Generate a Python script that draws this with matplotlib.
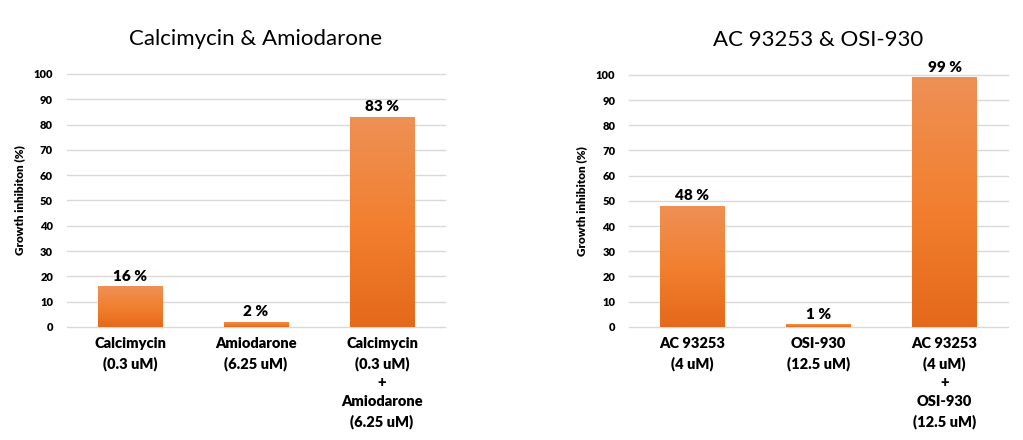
import numpy as np
import matplotlib.pyplot as plt
from matplotlib.colors import LinearSegmentedColormap

plt.rcParams['font.family'] = ['Lato', 'DejaVu Sans']

# data
left_title = "Calcimycin & Amiodarone"
left_labels = ["Calcimycin\n(0.3 uM)", "Amiodarone\n(6.25 uM)",
               "Calcimycin\n(0.3 uM)\n+\nAmiodarone\n(6.25 uM)"]
left_values = [16, 2, 83]

right_title = "AC 93253 & OSI-930"
right_labels = ["AC 93253\n(4 uM)", "OSI-930\n(12.5 uM)",
                "AC 93253\n(4 uM)\n+\nOSI-930\n(12.5 uM)"]
right_values = [48, 1, 99]

y_ticks = list(range(0, 101, 10))
y_label = "Growth inhibiton (%)"

grad = LinearSegmentedColormap.from_list("bar", ["#E5691A", "#F28030", "#EE9055"])


def draw_panel(ax, title, labels, values):
    x = np.arange(len(values))
    bars = ax.bar(x, values, width=0.51, color="#F07F2E", zorder=2)
    # vertical gradient inside each bar
    for b in bars:
        x0, y0 = b.get_x(), b.get_y()
        w, h = b.get_width(), b.get_height()
        img = ax.imshow(np.linspace(0, 1, 100).reshape(-1, 1), cmap=grad, origin="lower",
                        extent=[x0, x0 + w, y0, y0 + h], aspect="auto", zorder=3)
        img.set_clip_path(b)
    for xi, v in zip(x, values):
        ax.annotate(f"{v} %", (xi, v), xytext=(0, 2.5), textcoords="offset points",
                    ha="center", va="bottom", fontsize=11, fontweight="heavy")
    ax.set_xlim(-0.5, len(values) - 0.5)
    ax.set_ylim(0, 100)
    ax.set_yticks(y_ticks)
    ax.set_yticklabels([str(t) for t in y_ticks], fontsize=8, fontweight="heavy")
    ax.set_xticks(x)
    ax.set_xticklabels(labels, fontsize=10.5, fontweight="heavy", linespacing=1.52, va="top")
    ax.tick_params(axis="both", length=0)
    ax.tick_params(axis="x", pad=7)
    ax.tick_params(axis="y", pad=10)
    ax.grid(axis="y", color="#D9D9D9", linewidth=1, zorder=0)
    for gl in ax.get_ygridlines():
        gl.set_clip_on(False)
    for s in ax.spines.values():
        s.set_visible(False)
    ax.set_ylabel(y_label, fontsize=8.5, fontweight="heavy", labelpad=6)
    ax.set_title(title, fontsize=16, pad=21)
    ax.set_axisbelow(True)


fig = plt.figure(figsize=(10.23, 4.4), dpi=100)
ax1 = fig.add_axes([0.0655, 0.257, 0.3695, 0.575])
ax2 = fig.add_axes([0.615, 0.257, 0.370, 0.573])
draw_panel(ax1, left_title, left_labels, left_values)
draw_panel(ax2, right_title, right_labels, right_values)

fig.savefig("out.png", dpi=100)
